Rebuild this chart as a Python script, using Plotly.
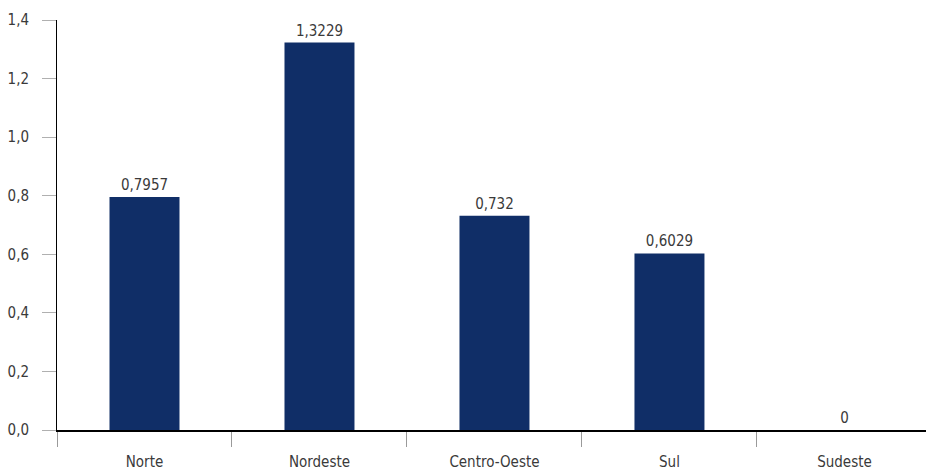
import plotly.graph_objects as go

categories = ["Norte", "Nordeste", "Centro-Oeste", "Sul", "Sudeste"]
values = [0.7957, 1.3229, 0.732, 0.6029, 0]
value_labels = [str(v).replace(".", ",") for v in values]

FONT = "Liberation Sans Narrow, DejaVu Sans Condensed, Arial Narrow, sans-serif"
TXT = "#3a3a3a"

fig = go.Figure(
    go.Bar(
        x=categories,
        y=values,
        width=0.4,
        marker=dict(color="#102E67", line=dict(width=0)),
        text=value_labels,
        textposition="outside",
        cliponaxis=False,
        textfont=dict(family=FONT, size=15, color=TXT),
    )
)

fig.update_layout(
    width=926,
    height=472,
    margin=dict(l=57, r=0, t=20, b=42),
    paper_bgcolor="white",
    plot_bgcolor="white",
    separators=",.",
    showlegend=False,
    font=dict(family=FONT, size=15, color=TXT),
)

fig.update_xaxes(
    type="category",
    range=[-0.5, 4.466],
    tickson="boundaries",
    ticks="outside",
    ticklen=15,
    tickwidth=1,
    tickcolor="#9a9a9a",
    ticklabelstandoff=17,
    automargin=False,
    showline=True,
    linecolor="#000000",
    linewidth=1.5,
    showgrid=False,
    zeroline=False,
    tickfont=dict(family=FONT, size=15, color=TXT),
)

fig.update_yaxes(
    range=[0, 1.4],
    tickvals=[0, 0.2, 0.4, 0.6, 0.8, 1.0, 1.2, 1.4],
    tickformat=".1f",
    ticks="outside",
    ticklen=14,
    tickwidth=1,
    tickcolor="#b0b0b0",
    ticklabelstandoff=10,
    automargin=False,
    showline=True,
    linecolor="#000000",
    linewidth=1,
    showgrid=False,
    zeroline=False,
    tickfont=dict(family=FONT, size=15, color=TXT),
)

fig.write_html(
    "out.html",
    config={"displayModeBar": False},
    post_script="document.body.style.margin='0';",
)
